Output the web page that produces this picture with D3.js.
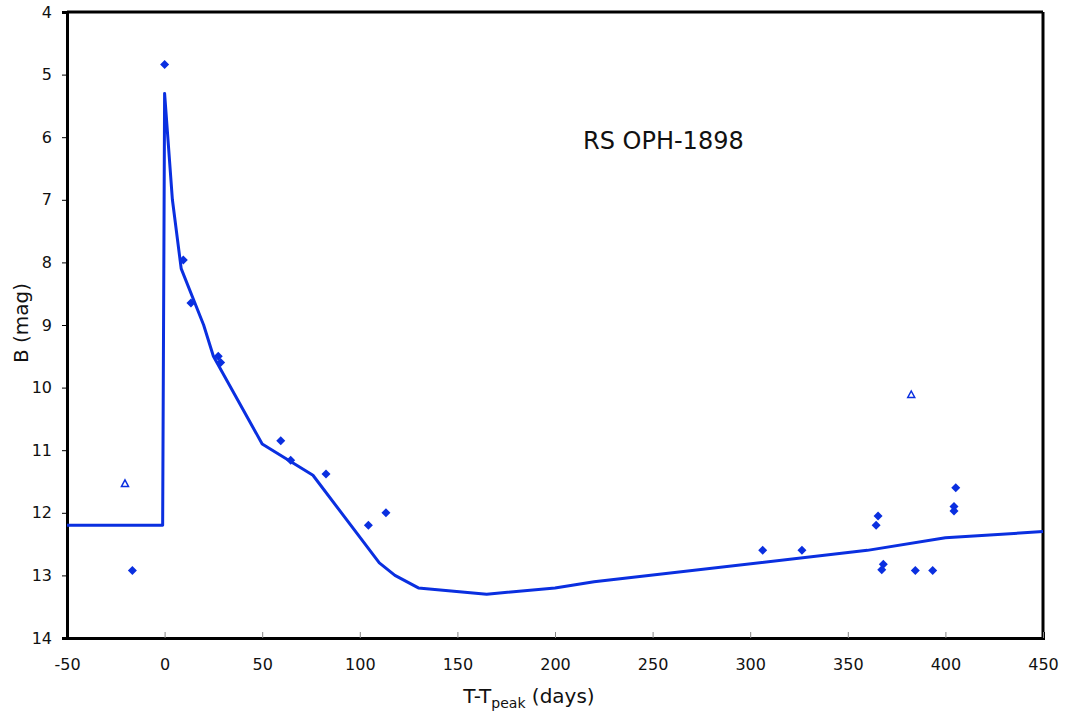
<!DOCTYPE html>
<html><head><meta charset="utf-8">
<script src="https://cdn.jsdelivr.net/npm/d3@7"></script>
<style>body{margin:0;background:#fff}svg{display:block}text{font-family:"DejaVu Sans",Verdana,sans-serif;fill:#111}</style>
</head><body><svg id="c" width="1067" height="716"></svg>
<script>
const modelDays = [-50,-1,0,4,8.5,20,25,50,76,110,118,130,165,200,220,360,400,450];
const modelMag  = [12.2,12.2,5.3,7.0,8.1,9.0,9.5,10.9,11.4,12.8,13.0,13.2,13.3,13.2,13.1,12.6,12.4,12.3];
const obsDays = [0,9.6,13.5,27.5,28.7,59.5,64.6,82.7,-16.5,104.4,113.4,306.4,326.5,365.5,364.5,368.2,367.4,384.6,393.5,405.3,404.4,404.4];
const obsMag  = [4.84,7.96,8.65,9.50,9.60,10.85,11.16,11.38,12.92,12.20,12.00,12.60,12.60,12.05,12.20,12.82,12.91,12.92,12.92,11.60,11.90,11.97];
const limDays = [-20.3,382.5];
const limMag  = [11.53,10.11];
const xTicks = [-50,0,50,100,150,200,250,300,350,400,450];
const yTicks = [4,5,6,7,8,9,10,11,12,13,14];
const title = "RS OPH-1898";
const blue = "#0a2fe0";

const svg = d3.select("#c");
const m = {l:67,t:12,r:24,b:78};
const W = 1067, H = 716;
const x = d3.scaleLinear().domain([-50,450]).range([m.l, W-m.r]);
const y = d3.scaleLinear().domain([4,14]).range([m.t, H-m.b]);

// frame top/right
svg.append("line").attr("x1",m.l).attr("x2",W-m.r).attr("y1",m.t).attr("y2",m.t).attr("stroke","#000").attr("stroke-width",3);
svg.append("line").attr("x1",W-m.r).attr("x2",W-m.r).attr("y1",m.t).attr("y2",H-m.b).attr("stroke","#000").attr("stroke-width",3);

const fmt = d => String(d);
const xa = svg.append("g").attr("transform",`translate(0,${H-m.b})`)
  .call(d3.axisBottom(x).tickValues(xTicks).tickSize(-6).tickPadding(21).tickFormat(fmt));
xa.select(".domain").attr("stroke","#000").attr("stroke-width",3);
xa.selectAll(".tick line").attr("stroke","#888");
xa.selectAll("text").attr("font-size",16).attr("font-family","DejaVu Sans");

const ya = svg.append("g").attr("transform",`translate(${m.l},0)`)
  .call(d3.axisLeft(y).tickValues(yTicks).tickSize(5).tickPadding(10).tickFormat(fmt));
ya.select(".domain").attr("stroke","#000").attr("stroke-width",3);
ya.selectAll(".tick line").attr("stroke","#000");
ya.selectAll("text").attr("font-size",16).attr("font-family","DejaVu Sans");

const line = d3.line().x(d=>x(d[0])).y(d=>y(d[1]));
svg.append("path").datum(modelDays.map((d,i)=>[d,modelMag[i]]))
  .attr("d",line).attr("fill","none").attr("stroke",blue).attr("stroke-width",3).attr("stroke-linejoin","round");

svg.append("g").selectAll("path").data(obsDays.map((d,i)=>[d,obsMag[i]])).join("path")
  .attr("transform",d=>`translate(${x(d[0])},${y(d[1])})`)
  .attr("d","M0,-4.5L4.5,0L0,4.5L-4.5,0Z").attr("fill",blue);

svg.append("g").selectAll("path").data(limDays.map((d,i)=>[d,limMag[i]])).join("path")
  .attr("transform",d=>`translate(${x(d[0])},${y(d[1])})`)
  .attr("d","M0,-3.5L3.5,3L-3.5,3Z").attr("fill","none").attr("stroke",blue).attr("stroke-width",1.5);

svg.append("text").attr("x",583).attr("y",149).attr("font-size",24).text(title);

svg.append("text").attr("transform",`translate(28,323) rotate(-90)`)
  .attr("text-anchor","middle").attr("font-size",20).text("B (mag)");
const xt = svg.append("text").attr("x",529).attr("y",703).attr("text-anchor","middle").attr("font-size",20);
xt.append("tspan").text("T-T");
xt.append("tspan").attr("font-size",14).attr("dy",5).text("peak");
xt.append("tspan").attr("dy",-5).text(" (days)");
</script></body></html>
